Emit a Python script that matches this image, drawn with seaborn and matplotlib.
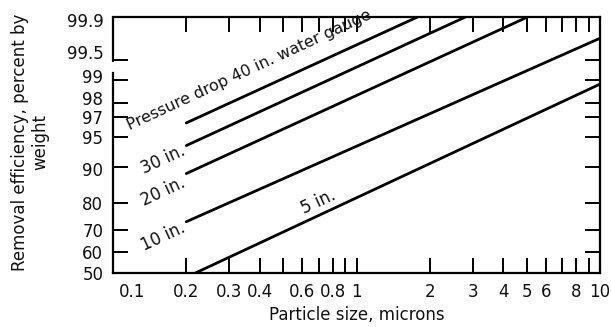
import numpy as np
import pandas as pd
import matplotlib
matplotlib.use("Agg")
import matplotlib.pyplot as plt
import matplotlib.transforms as mtransforms
import seaborn as sns
from statistics import NormalDist

# line data
pressures = ['40 in.', '30 in.', '20 in.', '10 in.', '5 in.']
size_start = [0.2, 0.2, 0.2, 0.2, 0.218]
size_end = [1.78, 2.80, 5.04, 10.0, 10.0]
eff_start = [96.5, 93.8, 88.5, 73.2, 50.0]
eff_end = [99.9, 99.9, 99.9, 99.77, 98.87]

# line labels: text, x, y
label_text = ['Pressure drop 40 in. water gauge', '30 in.', '20 in.', '10 in.', '5 in.']
label_x = [0.362, 0.161, 0.160, 0.160, 0.698]
label_y = [99.28, 91.5, 83.7, 66.9, 80.6]

xticks_major = [0.1, 0.2, 0.3, 0.4, 0.6, 0.8, 1, 2, 3, 4, 5, 6, 8, 10]
xticks_minor = [0.5, 0.7, 0.9, 7, 9]
yticks = [50, 60, 70, 80, 90, 95, 97, 98, 99, 99.5, 99.9]

rows = []
for p, x0, x1, y0, y1 in zip(pressures, size_start, size_end, eff_start, eff_end):
    rows.append({'pressure': p, 'size': x0, 'eff': y0})
    rows.append({'pressure': p, 'size': x1, 'eff': y1})
df = pd.DataFrame(rows)

nd = NormalDist()

def prob_fwd(p):
    p = np.clip(np.asarray(p, float), 1e-6, 100 - 1e-6)
    return np.vectorize(lambda v: nd.inv_cdf(v / 100), otypes=[float])(p)

def prob_inv(z):
    return np.vectorize(lambda v: nd.cdf(v) * 100, otypes=[float])(np.asarray(z, float))

sns.set_theme(style='ticks')
plt.rcParams['font.family'] = ['DejaVu Sans']

fig, ax = plt.subplots(figsize=(6.11, 3.27), dpi=100)
fig.subplots_adjust(left=113/611, right=600/611, top=1-17/327, bottom=1-273/327)

ax.set_xscale('log')
ax.set_yscale('function', functions=(prob_fwd, prob_inv))

sns.lineplot(data=df, x='size', y='eff', hue='pressure', units='pressure',
             estimator=None, palette=['black'] * 5, linewidth=2.0,
             legend=False, ax=ax)

ax.set_xlim(0.1, 10)
ax.set_ylim(50, 99.9)

ax.set_xticks(xticks_major)
ax.set_xticklabels([f'{v:g}' for v in xticks_major])
ax.set_xticks(xticks_minor, minor=True)
ax.set_xticklabels([], minor=True)
ax.set_yticks(yticks)
ax.set_yticklabels([f'{v:g}' for v in yticks])
ax.yaxis.set_minor_locator(matplotlib.ticker.NullLocator())

ax.tick_params(axis='both', which='both', direction='in', length=10.5, width=1.4,
               color='black', top=True, right=True, labelsize=12, labelcolor='#111')
ax.tick_params(axis='x', which='both', pad=7)
ax.tick_params(axis='y', which='both', pad=7)

for s in ax.spines.values():
    s.set_linewidth(1.6)
    s.set_color('black')

# broken left axis between 99 and 99.5
ax.spines['left'].set_bounds(50, 99.2)
ax.axvline(0.1, ymin=0.828, ymax=1, color='black', lw=1.6, clip_on=False)

# nudge the first x label and some y labels like the original print
off = mtransforms.ScaledTranslation(19/100, 0, fig.dpi_scale_trans)
xl = ax.get_xticklabels()[0]
xl.set_transform(xl.get_transform() + off)
for lab, dy in zip(ax.get_yticklabels(), [0, 0, 0, 0, -2, 0, 0, 5, 4, 8, -3]):
    if dy:
        lab.set_transform(lab.get_transform() +
                          mtransforms.ScaledTranslation(0, dy/100, fig.dpi_scale_trans))

for t, x, y in zip(label_text, label_x, label_y):
    ax.text(x, y, t, rotation=24.8, rotation_mode='anchor', ha='center',
            va='center', fontsize=12 if len(t) < 10 else 11.5, color='#111')

ax.set_xlabel('Particle size, microns', fontsize=12, color='#111', labelpad=4)
ax.set_ylabel('')
fig.text(30/611, 1-142/327, 'Removal efficiency, percent by\nweight', rotation=90,
         ha='center', va='center', multialignment='center', fontsize=12,
         linespacing=1.15, color='#111')

fig.savefig('out.png', dpi=100)
